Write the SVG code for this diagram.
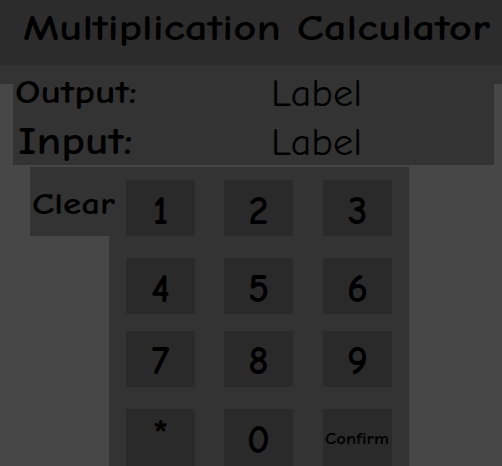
<svg xmlns="http://www.w3.org/2000/svg" width="502" height="466" viewBox="0 0 502 466">
<style>
text{font-family:"Comic Sans MS","Comic Neue","Noto Sans","DejaVu Sans",sans-serif;fill:#000;font-weight:bold}
.btn{fill:#2a2a2a}
.panel{fill:#333333}
.d{font-size:40px;text-anchor:middle}
.lbl{font-weight:normal}
</style>
<rect x="0" y="0" width="502" height="466" fill="#474747"/>
<g id="title">
<rect x="0" y="0" width="502" height="65" fill="#2c2c2c"/>
<text x="23" y="40" font-size="37" textLength="467" lengthAdjust="spacingAndGlyphs">Multiplication Calculator</text>
</g>
<g id="display">
<rect class="panel" x="0" y="65" width="502" height="19"/>
<rect class="panel" x="13" y="65" width="481" height="100"/>
<text x="15" y="103" font-size="32" textLength="122" lengthAdjust="spacingAndGlyphs">Output:</text>
<text x="18" y="154" font-size="38" textLength="115" lengthAdjust="spacingAndGlyphs">Input:</text>
<text class="lbl" x="271" y="106" font-size="38" textLength="91" lengthAdjust="spacingAndGlyphs">Label</text>
<text class="lbl" x="271" y="155" font-size="38" textLength="91" lengthAdjust="spacingAndGlyphs">Label</text>
</g>
<g id="keypad">
<path class="panel" d="M30 167H409V466H109V236H30Z"/>
</g>
<g id="btn-clear">
<text x="32" y="214" font-size="31" textLength="83" lengthAdjust="spacingAndGlyphs">Clear</text>
</g>
<g id="btn-1"><rect class="btn" x="126" y="180" width="69" height="56"/><text class="d" x="160.5" y="224">1</text></g>
<g id="btn-2"><rect class="btn" x="224" y="180" width="69" height="56"/><text class="d" x="258.5" y="224">2</text></g>
<g id="btn-3"><rect class="btn" x="323" y="180" width="69" height="56"/><text class="d" x="357.5" y="224">3</text></g>
<g id="btn-4"><rect class="btn" x="126" y="258" width="69" height="56"/><text class="d" x="160.5" y="302">4</text></g>
<g id="btn-5"><rect class="btn" x="224" y="258" width="69" height="56"/><text class="d" x="258.5" y="302">5</text></g>
<g id="btn-6"><rect class="btn" x="323" y="258" width="69" height="56"/><text class="d" x="357.5" y="302">6</text></g>
<g id="btn-7"><rect class="btn" x="126" y="331" width="69" height="56"/><text class="d" x="160.5" y="374">7</text></g>
<g id="btn-8"><rect class="btn" x="224" y="331" width="69" height="56"/><text class="d" x="258.5" y="374">8</text></g>
<g id="btn-9"><rect class="btn" x="323" y="331" width="69" height="56"/><text class="d" x="357.5" y="374">9</text></g>
<g id="btn-star"><rect class="btn" x="126" y="409" width="69" height="57"/><text x="160.5" y="447" font-size="40" text-anchor="middle">*</text></g>
<g id="btn-0"><rect class="btn" x="224" y="409" width="69" height="57"/><text class="d" x="258.5" y="453">0</text></g>
<g id="btn-confirm"><rect class="btn" x="323" y="409" width="69" height="57"/><text x="357" y="444" font-size="15" text-anchor="middle" textLength="64" lengthAdjust="spacingAndGlyphs">Confirm</text></g>
</svg>
